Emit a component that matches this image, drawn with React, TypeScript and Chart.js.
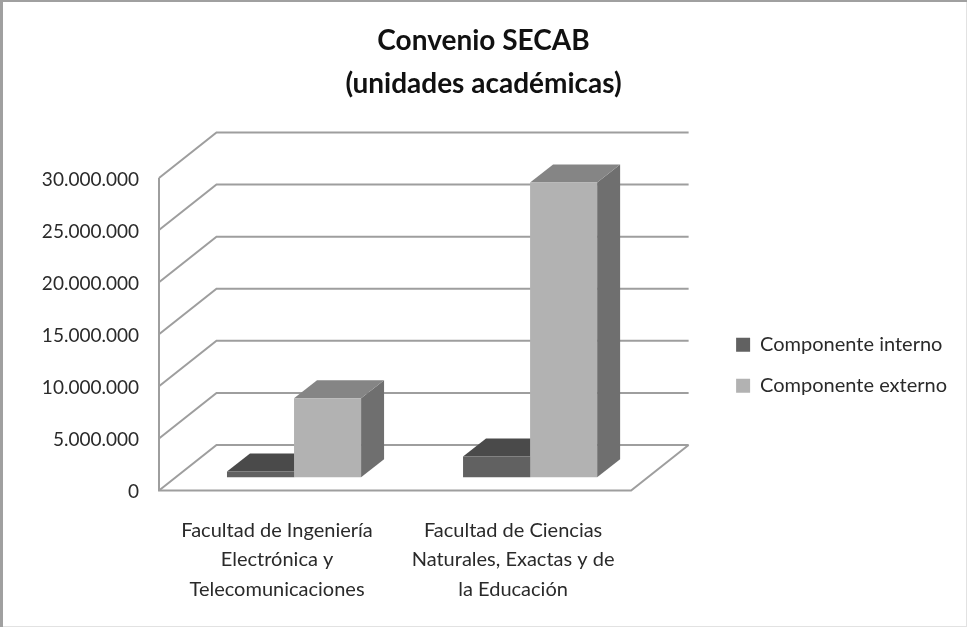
import React, { useEffect, useRef } from "react";
import { Chart, registerables } from "chart.js";

Chart.register(...registerables);

const titleLines = ["Convenio SECAB", "(unidades académicas)"];
const categories = [
  ["Facultad de Ingeniería", "Electrónica y", "Telecomunicaciones"],
  ["Facultad de Ciencias", "Naturales, Exactas y de", "la Educación"],
];
const internalValues = [550000, 2000000];
const externalValues = [7600000, 28300000];
const seriesNames = ["Componente interno", "Componente externo"];

const FONT = "Lato, Carlito, 'Noto Sans', sans-serif";
const TEXT = "#2a2a2a";
const GRID = "#9e9e9e";
// 3D projection of the walls and of the bars
const WALL = { dx: 57.5, dy: -45.5 };
const BAR_SHIFT = { dx: 17, dy: -13.2 };
const BAR_DEPTH = { dx: 23, dy: -18 };
const SHADES = [
  { top: "#4a4a4a", side: "#4f4f4f" },
  { top: "#858585", side: "#6f6f6f" },
];

const poly = (ctx: CanvasRenderingContext2D, pts: number[][], fill: string) => {
  ctx.beginPath();
  pts.forEach((p, i) => (i ? ctx.lineTo(p[0], p[1]) : ctx.moveTo(p[0], p[1])));
  ctx.closePath();
  ctx.fillStyle = fill;
  ctx.fill();
};

const frame3d = {
  id: "frame3d",
  beforeDraw(chart: any) {
    const { ctx, width, height } = chart;
    ctx.save();
    ctx.fillStyle = "#ffffff";
    ctx.fillRect(0, 0, width, height);
    ctx.fillStyle = "#e2e2e2";
    ctx.fillRect(width - 1, 0, 1, height);
    ctx.fillRect(0, height - 1, width, 1);
    ctx.fillStyle = "#a0a0a0";
    ctx.fillRect(0, 0, width, 2);
    ctx.fillRect(0, 0, 3, height);
    ctx.restore();
  },
  beforeDatasetsDraw(chart: any) {
    const { ctx, chartArea: a, scales } = chart;
    const y = scales.y;
    ctx.save();
    ctx.strokeStyle = GRID;
    ctx.lineWidth = 2;
    y.ticks.forEach((t: any) => {
      const py = y.getPixelForValue(t.value);
      ctx.beginPath();
      ctx.moveTo(a.left, py);
      ctx.lineTo(a.left + WALL.dx, py + WALL.dy);
      ctx.lineTo(a.right + WALL.dx, py + WALL.dy);
      ctx.stroke();
    });
    ctx.beginPath();
    ctx.moveTo(a.left, a.top);
    ctx.lineTo(a.left, a.bottom);
    ctx.lineTo(a.right, a.bottom);
    ctx.lineTo(a.right + WALL.dx, a.bottom + WALL.dy);
    ctx.stroke();

    [0, 1].forEach((ds) => {
      chart.getDatasetMeta(ds).data.forEach((bar: any) => {
        const l = bar.x - bar.width / 2 + BAR_SHIFT.dx;
        const r = bar.x + bar.width / 2 + BAR_SHIFT.dx;
        const t = bar.y + BAR_SHIFT.dy;
        const b = bar.base + BAR_SHIFT.dy;
        const d = BAR_DEPTH;
        poly(ctx, [[r, t], [r + d.dx, t + d.dy], [r + d.dx, b + d.dy], [r, b]], SHADES[ds].side);
        poly(ctx, [[l, t], [l + d.dx, t + d.dy], [r + d.dx, t + d.dy], [r, t]], SHADES[ds].top);
      });
    });
    ctx.restore();
    ctx.save();
    ctx.translate(BAR_SHIFT.dx, BAR_SHIFT.dy);
  },
  afterDatasetsDraw(chart: any) {
    chart.ctx.restore();
  },
};

export default function App() {
  const ref = useRef<HTMLCanvasElement>(null);
  useEffect(() => {
    const chart = new Chart(ref.current as HTMLCanvasElement, {
      type: "bar",
      data: {
        labels: categories as any,
        datasets: [
          { label: seriesNames[0], data: internalValues, backgroundColor: "#616161", borderWidth: 0, clip: false as any },
          { label: seriesNames[1], data: externalValues, backgroundColor: "#b2b2b2", borderWidth: 0, clip: false as any },
        ],
      },
      plugins: [frame3d as any],
      options: {
        responsive: false,
        animation: false,
        layout: { padding: { left: 10, right: 10, top: 0, bottom: 0 } },
        datasets: { bar: { barPercentage: 1, categoryPercentage: 0.568 } },
        plugins: {
          tooltip: { enabled: false },
          title: {
            display: true,
            text: titleLines,
            color: "#111111",
            font: { family: FONT, size: 28, weight: "bold", lineHeight: "43px" as any },
            padding: { top: 19, bottom: 73 },
          },
          legend: {
            position: "right",
            fullSize: false,
            maxWidth: 320,
            title: {
              display: true,
              text: " ",
              font: { family: FONT, size: 20 },
              padding: { top: 0, bottom: 38 },
            },
            labels: {
              boxWidth: 14,
              boxHeight: 14,
              padding: 21,
              color: TEXT,
              font: { family: FONT, size: 20 },
            },
          },
        },
        scales: {
          x: {
            grid: { display: false, drawTicks: false },
            border: { display: false },
            ticks: {
              color: TEXT,
              maxRotation: 0,
              autoSkip: false,
              padding: 25,
              font: { family: FONT, size: 20, lineHeight: "29.5px" as any },
            },
            afterFit(s: any) {
              s.height = 136.5;
            },
          },
          y: {
            min: 0,
            max: 30000000,
            grid: { display: false, drawTicks: false },
            border: { display: false },
            ticks: {
              stepSize: 5000000,
              color: TEXT,
              padding: 20,
              labelOffset: 1.5,
              font: { family: FONT, size: 19 },
              callback: (v: any) => String(v).replace(/\B(?=(\d{3})+$)/g, "."),
            },
            afterFit(s: any) {
              s.width = 149;
            },
          },
          gap: {
            type: "linear",
            position: "right",
            grid: { display: false, drawTicks: false },
            border: { display: false },
            ticks: { display: false },
            afterFit(s: any) {
              s.width = 84;
            },
          },
        },
      },
    } as any);
    return () => chart.destroy();
  }, []);
  return (
    <div style={{ position: "absolute", left: 0, top: 0 }}>
      <canvas ref={ref} width={967} height={627} style={{ display: "block" }} />
    </div>
  );
}
